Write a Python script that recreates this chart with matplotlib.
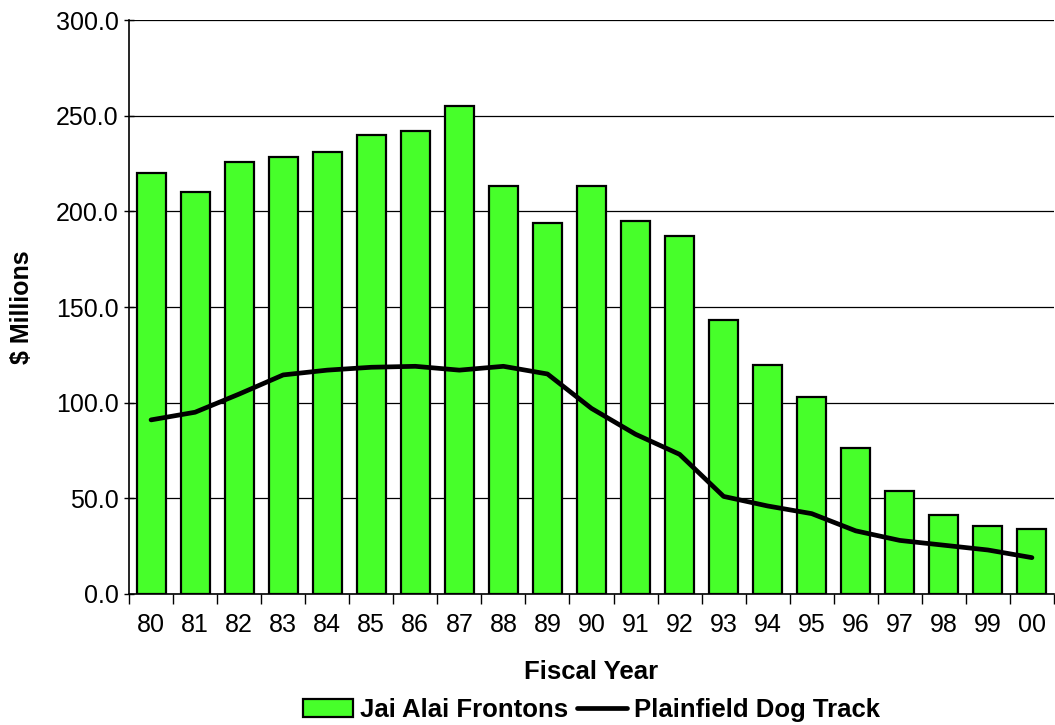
import matplotlib.pyplot as plt
import numpy as np

# Fiscal years and values ($ millions)
years = ["80", "81", "82", "83", "84", "85", "86", "87", "88", "89", "90",
         "91", "92", "93", "94", "95", "96", "97", "98", "99", "00"]
jai_alai = [220.0, 210.0, 226.0, 228.5, 231.0, 240.0, 242.0, 255.0, 213.5, 194.0, 213.0,
            195.0, 187.0, 143.0, 119.5, 103.0, 76.5, 54.0, 41.5, 35.5, 34.0]
dog_track = [91.0, 95.0, 104.5, 114.5, 117.0, 118.5, 119.0, 117.0, 119.0, 115.0, 97.0,
             83.5, 73.0, 51.0, 46.0, 42.0, 33.0, 28.0, 25.5, 23.0, 19.0]

plt.rcParams['font.family'] = ['Liberation Sans', 'DejaVu Sans']

fig = plt.figure(figsize=(10.55, 7.25), dpi=100)
ax = fig.add_axes([0.1223, 0.1807, 0.8767, 0.7917])

x = np.arange(len(years))
bars = ax.bar(x, jai_alai, width=0.66, color='#47FF2A', edgecolor='black', linewidth=1.6,
              label='Jai Alai Frontons', zorder=2)
line, = ax.plot(x, dog_track, color='black', linewidth=3.4, solid_joinstyle='round',
                solid_capstyle='round', label='Plainfield Dog Track', zorder=3)

# Formatting
ax.set_xlim(-0.5, len(years) - 0.5)
ax.set_ylim(0, 300)
ax.set_yticks(np.arange(0, 301, 50))
ax.set_yticklabels([f"{v:.1f}" for v in np.arange(0, 301, 50)], fontsize=18)
ax.set_xticks(x)
ax.set_xticklabels(years, fontsize=18)
ax.tick_params(axis='x', length=0, pad=14)
ax.set_xticks(np.arange(-0.5, len(years), 1), minor=True)
ax.tick_params(axis='x', which='minor', length=7, width=1, direction='out')
ax.tick_params(axis='y', length=7, width=1, direction='inout', pad=4)
ax.yaxis.grid(True, color='black', linewidth=0.9, zorder=0)
ax.set_axisbelow(True)
for side in ['top', 'right']:
    ax.spines[side].set_visible(False)
ax.spines['left'].set_linewidth(1.2)
ax.spines['bottom'].set_linewidth(1.2)

ax.set_ylabel('$ Millions', fontsize=18, fontweight='bold', labelpad=16)
ax.set_xlabel('Fiscal Year', fontsize=18.5, fontweight='bold', labelpad=16)

ax.legend([bars, line], ['Jai Alai Frontons', 'Plainfield Dog Track'],
          loc='upper center', bbox_to_anchor=(0.5, -0.15), ncol=2, frameon=False,
          prop={'size': 18.5, 'weight': 'bold'}, handlelength=1.95, handleheight=0.7,
          handletextpad=0.28, columnspacing=0.35, borderpad=0.2)

fig.savefig('out.png', dpi=100)
